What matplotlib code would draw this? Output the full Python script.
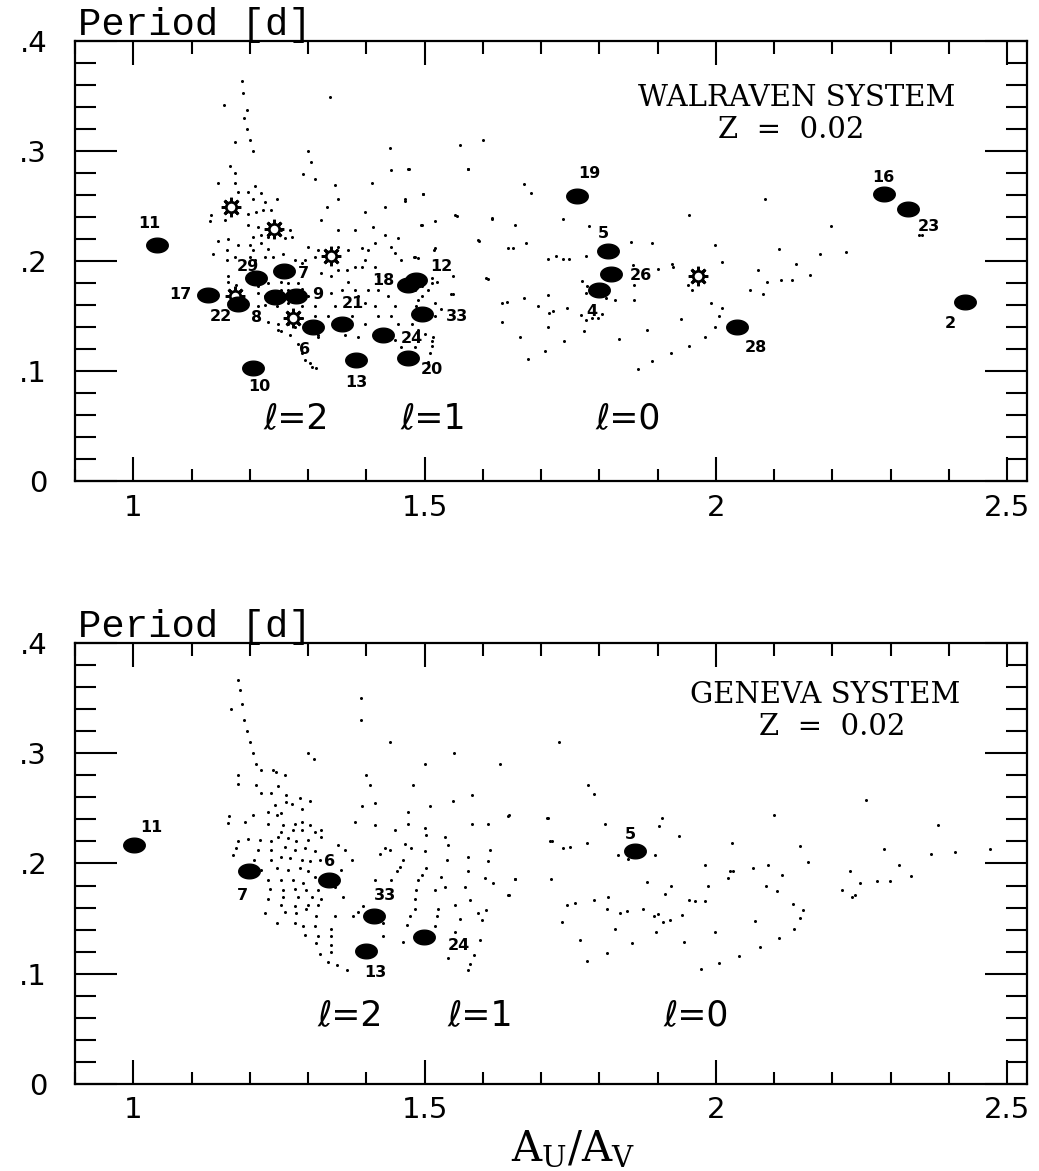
import numpy as np
import matplotlib
matplotlib.use('Agg')
import matplotlib.pyplot as plt
from matplotlib.path import Path
from matplotlib.ticker import FixedLocator, FixedFormatter, MultipleLocator

# ---- data ----
# Walraven panel: observed stars (filled ellipses) with their numbers
top_star_x = [1.041, 1.129, 1.180, 1.210, 1.259, 1.243, 1.279, 1.309, 1.359, 1.206,
              1.382, 1.428, 1.471, 1.495, 1.471, 1.486, 1.761, 1.815, 1.820, 1.800,
              2.037, 2.288, 2.330, 2.428]
top_star_y = [0.215, 0.169, 0.161, 0.185, 0.191, 0.167, 0.168, 0.140, 0.143, 0.103,
              0.110, 0.133, 0.112, 0.152, 0.178, 0.183, 0.259, 0.209, 0.188, 0.174,
              0.140, 0.261, 0.247, 0.163]
top_star_lbl = ['11', '17', '22', '29', '7', '8', '9', '6', '21', '10',
                '13', '24', '20', '33', '18', '12', '19', '5', '26', '4',
                '28', '16', '23', '2']
top_lbl_x = [1.028, 1.081, 1.151, 1.197, 1.292, 1.211, 1.316, 1.294, 1.377, 1.217,
             1.383, 1.478, 1.512, 1.555, 1.429, 1.529, 1.782, 1.807, 1.872, 1.787,
             2.069, 2.288, 2.365, 2.403]
top_lbl_y = [0.234, 0.170, 0.150, 0.195, 0.189, 0.149, 0.170, 0.120, 0.161, 0.086,
             0.090, 0.130, 0.101, 0.150, 0.182, 0.195, 0.280, 0.225, 0.187, 0.154,
             0.121, 0.276, 0.231, 0.143]

# open "sun" symbols (Walraven panel only)
top_open_x = [1.167, 1.242, 1.340, 1.174, 1.274, 1.970]
top_open_y = [0.249, 0.229, 0.205, 0.168, 0.148, 0.186]

# model grid points, Walraven panel
top_grid = np.array([
    (1.186, 0.364), (1.189, 0.353), (1.156, 0.342), (1.196, 0.337), (1.337, 0.349),
    (1.19, 0.330), (1.195, 0.320), (1.200, 0.310), (1.205, 0.300), (1.175, 0.308),
    (1.300, 0.300), (1.305, 0.290), (1.440, 0.303), (1.560, 0.305), (1.600, 0.310),
    (1.166, 0.286), (1.174, 0.280), (1.145, 0.271), (1.174, 0.271), (1.209, 0.268),
    (1.180, 0.263), (1.197, 0.263), (1.220, 0.262), (1.206, 0.256), (1.226, 0.254),
    (1.246, 0.256), (1.134, 0.242), (1.157, 0.237), (1.197, 0.243), (1.211, 0.245),
    (1.223, 0.246), (1.237, 0.246), (1.131, 0.236), (1.197, 0.233), (1.214, 0.231),
    (1.206, 0.222), (1.220, 0.224), (1.231, 0.222), (1.254, 0.228), (1.269, 0.228),
    (1.260, 0.221), (1.272, 0.222), (1.145, 0.218), (1.163, 0.220), (1.180, 0.215),
    (1.200, 0.215), (1.220, 0.216), (1.231, 0.211), (1.206, 0.210), (1.160, 0.210),
    (1.174, 0.204), (1.137, 0.206), (1.160, 0.201), (1.200, 0.204), (1.209, 0.201),
    (1.226, 0.204), (1.240, 0.204), (1.257, 0.206), (1.277, 0.201), (1.289, 0.198),
    (1.163, 0.186), (1.163, 0.181), (1.177, 0.178), (1.214, 0.177), (1.231, 0.180),
    (1.254, 0.181), (1.266, 0.180), (1.283, 0.180), (1.214, 0.171), (1.226, 0.168),
    (1.254, 0.174), (1.266, 0.174), (1.289, 0.175), (1.300, 0.168), (1.214, 0.159),
    (1.226, 0.160), (1.246, 0.159), (1.266, 0.162), (1.289, 0.159), (1.312, 0.159),
    (1.214, 0.150), (1.231, 0.145), (1.249, 0.143), (1.266, 0.143), (1.289, 0.148),
    (1.254, 0.136), (1.269, 0.133), (1.277, 0.140), (1.283, 0.125), (1.294, 0.110),
    (1.306, 0.104), (1.297, 0.136), (1.317, 0.133), (1.314, 0.103), (1.303, 0.107),
    (1.289, 0.116), (1.335, 0.150), (1.340, 0.171), (1.346, 0.159), (1.358, 0.174),
    (1.369, 0.181), (1.380, 0.174), (1.386, 0.168), (1.340, 0.186), (1.366, 0.192),
    (1.380, 0.195), (1.392, 0.195), (1.398, 0.201), (1.403, 0.210), (1.392, 0.212),
    (1.415, 0.216), (1.380, 0.228), (1.369, 0.210), (1.352, 0.213), (1.317, 0.210),
    (1.300, 0.213), (1.312, 0.204), (1.294, 0.201), (1.323, 0.189), (1.352, 0.192),
    (1.352, 0.228), (1.323, 0.237), (1.352, 0.256), (1.332, 0.249), (1.312, 0.275),
    (1.292, 0.279), (1.346, 0.269), (1.409, 0.271), (1.398, 0.245), (1.432, 0.249),
    (1.412, 0.231), (1.432, 0.224), (1.455, 0.221), (1.443, 0.213), (1.449, 0.207),
    (1.460, 0.201), (1.483, 0.204), (1.466, 0.256), (1.443, 0.283), (1.472, 0.284),
    (1.498, 0.261), (1.518, 0.236), (1.552, 0.242), (1.518, 0.212), (1.575, 0.284),
    (1.615, 0.239), (1.592, 0.219), (1.495, 0.233), (1.415, 0.195), (1.420, 0.186),
    (1.403, 0.174), (1.420, 0.174), (1.398, 0.162), (1.415, 0.159), (1.420, 0.150),
    (1.437, 0.168), (1.449, 0.159), (1.443, 0.150), (1.455, 0.143), (1.449, 0.128),
    (1.460, 0.122), (1.483, 0.174), (1.495, 0.177), (1.506, 0.174), (1.512, 0.180),
    (1.495, 0.168), (1.489, 0.165), (1.486, 0.159), (1.478, 0.143), (1.489, 0.137),
    (1.501, 0.134), (1.512, 0.127), (1.509, 0.116), (1.483, 0.122), (1.518, 0.162),
    (1.546, 0.170), (1.606, 0.185), (1.529, 0.156), (1.518, 0.150), (1.375, 0.150),
    (1.398, 0.143), (1.386, 0.131), (1.363, 0.133), (1.358, 0.146), (1.317, 0.131),
    (1.323, 0.143), (1.312, 0.150), (1.266, 0.150), (1.249, 0.137),
    (1.473, 0.284), (1.574, 0.284), (1.467, 0.255), (1.498, 0.261), (1.493, 0.233),
    (1.556, 0.241), (1.616, 0.238), (1.656, 0.233), (1.671, 0.270), (1.683, 0.262),
    (1.737, 0.238), (1.783, 0.232), (1.593, 0.218), (1.643, 0.212), (1.651, 0.212),
    (1.674, 0.216), (1.516, 0.210), (1.711, 0.202), (1.725, 0.205), (1.737, 0.202),
    (1.748, 0.202), (1.777, 0.205), (1.854, 0.217), (1.891, 0.216), (1.857, 0.196),
    (1.900, 0.193), (1.927, 0.195), (1.924, 0.197), (1.859, 0.178), (1.770, 0.182),
    (1.778, 0.177), (1.777, 0.171), (1.811, 0.166), (1.826, 0.165), (1.859, 0.165),
    (1.632, 0.162), (1.642, 0.163), (1.671, 0.166), (1.711, 0.169), (1.695, 0.159),
    (1.713, 0.153), (1.721, 0.155), (1.744, 0.157), (1.632, 0.145), (1.711, 0.140),
    (1.664, 0.131), (1.677, 0.111), (1.706, 0.118), (1.740, 0.127), (1.773, 0.136),
    (1.769, 0.151), (1.777, 0.146), (1.787, 0.148), (1.797, 0.148), (1.804, 0.152),
    (1.834, 0.129), (1.867, 0.102), (1.891, 0.109), (1.923, 0.116), (1.953, 0.123),
    (1.981, 0.131), (1.999, 0.140), (2.006, 0.150), (2.010, 0.157), (1.992, 0.162),
    (1.940, 0.147), (1.881, 0.137), (1.953, 0.242), (1.998, 0.215), (2.010, 0.199),
    (1.952, 0.178), (1.959, 0.174), (2.059, 0.174), (2.072, 0.192), (2.080, 0.170),
    (2.088, 0.181), (2.112, 0.183), (2.131, 0.183), (2.137, 0.197), (2.109, 0.211),
    (2.085, 0.256), (1.549, 0.186), (1.549, 0.170), (1.608, 0.184), (1.513, 0.185),
    (1.521, 0.181), (1.482, 0.204), (1.489, 0.203), (1.515, 0.131), (1.506, 0.108),
    (1.512, 0.123), (2.198, 0.232), (2.179, 0.206), (2.224, 0.208), (2.161, 0.187),
    (2.348, 0.224), (2.354, 0.224),
])

# Geneva panel: observed stars
bot_star_x = [1.001, 1.199, 1.336, 1.414, 1.399, 1.499, 1.861]
bot_star_y = [0.217, 0.193, 0.185, 0.152, 0.121, 0.133, 0.211]
bot_star_lbl = ['11', '7', '6', '33', '13', '24', '5']
bot_lbl_x = [1.031, 1.188, 1.337, 1.432, 1.416, 1.558, 1.854]
bot_lbl_y = [0.233, 0.171, 0.202, 0.171, 0.101, 0.126, 0.226]

# model grid points, Geneva panel
bot_grid = np.array([
    (1.179, 0.366), (1.183, 0.357), (1.186, 0.345), (1.168, 0.340), (1.190, 0.330),
    (1.195, 0.320), (1.200, 0.310), (1.205, 0.300), (1.210, 0.290), (1.220, 0.285),
    (1.240, 0.285), (1.245, 0.283), (1.300, 0.300), (1.310, 0.295), (1.390, 0.350),
    (1.390, 0.330), (1.400, 0.280), (1.440, 0.310), (1.500, 0.290), (1.550, 0.300),
    (1.730, 0.310), (1.630, 0.290), (1.260, 0.280), (1.180, 0.280),
    (1.180, 0.272), (1.210, 0.271), (1.249, 0.270), (1.220, 0.264), (1.237, 0.264),
    (1.262, 0.262), (1.287, 0.259), (1.303, 0.257), (1.243, 0.253), (1.262, 0.256),
    (1.273, 0.254), (1.254, 0.246), (1.231, 0.247), (1.289, 0.249), (1.165, 0.243),
    (1.206, 0.244), (1.246, 0.244), (1.163, 0.237), (1.192, 0.238), (1.231, 0.236),
    (1.257, 0.235), (1.277, 0.236), (1.289, 0.238), (1.303, 0.235), (1.254, 0.229),
    (1.274, 0.230), (1.289, 0.230), (1.312, 0.229), (1.323, 0.230), (1.180, 0.220),
    (1.197, 0.222), (1.217, 0.221), (1.237, 0.220), (1.249, 0.224), (1.266, 0.223),
    (1.280, 0.220), (1.300, 0.221), (1.323, 0.224), (1.177, 0.214), (1.214, 0.212),
    (1.237, 0.212), (1.260, 0.215), (1.277, 0.212), (1.294, 0.214), (1.312, 0.211),
    (1.352, 0.217), (1.363, 0.212), (1.171, 0.208), (1.208, 0.203), (1.237, 0.203),
    (1.254, 0.206), (1.269, 0.205), (1.289, 0.203), (1.303, 0.202), (1.320, 0.203),
    (1.220, 0.194), (1.246, 0.196), (1.266, 0.194), (1.286, 0.196), (1.300, 0.193),
    (1.312, 0.188), (1.357, 0.194), (1.375, 0.203), (1.231, 0.185), (1.254, 0.185),
    (1.274, 0.185), (1.292, 0.182), (1.234, 0.177), (1.257, 0.176), (1.277, 0.177),
    (1.297, 0.176), (1.317, 0.176), (1.346, 0.179), (1.360, 0.170), (1.231, 0.168),
    (1.257, 0.170), (1.283, 0.170), (1.306, 0.170), (1.323, 0.168), (1.254, 0.162),
    (1.277, 0.161), (1.300, 0.162), (1.317, 0.162), (1.226, 0.155), (1.260, 0.156),
    (1.280, 0.155), (1.297, 0.159), (1.314, 0.152), (1.346, 0.152), (1.246, 0.146),
    (1.277, 0.146), (1.292, 0.143), (1.312, 0.143), (1.340, 0.141), (1.294, 0.135),
    (1.317, 0.134), (1.340, 0.134), (1.314, 0.128), (1.340, 0.126), (1.320, 0.118),
    (1.340, 0.120), (1.334, 0.111), (1.349, 0.108), (1.366, 0.103), (1.377, 0.152),
    (1.386, 0.156), (1.394, 0.161), (1.429, 0.146), (1.429, 0.134), (1.415, 0.185),
    (1.443, 0.185), (1.380, 0.238), (1.415, 0.235), (1.392, 0.252), (1.415, 0.255),
    (1.406, 0.271), (1.480, 0.271), (1.509, 0.252), (1.549, 0.257), (1.581, 0.262),
    (1.472, 0.247), (1.472, 0.236), (1.449, 0.230), (1.500, 0.232), (1.503, 0.226),
    (1.535, 0.224), (1.540, 0.217), (1.432, 0.214), (1.423, 0.209), (1.440, 0.212),
    (1.466, 0.218), (1.477, 0.214), (1.463, 0.203), (1.457, 0.197), (1.452, 0.193),
    (1.500, 0.211), (1.503, 0.196), (1.495, 0.190), (1.489, 0.185), (1.486, 0.176),
    (1.483, 0.168), (1.483, 0.159), (1.475, 0.152), (1.469, 0.144), (1.463, 0.129),
    (1.538, 0.203), (1.529, 0.188), (1.535, 0.179), (1.518, 0.176), (1.523, 0.159),
    (1.521, 0.152), (1.518, 0.143), (1.552, 0.162), (1.561, 0.150), (1.552, 0.138),
    (1.541, 0.114), (1.575, 0.206), (1.575, 0.193), (1.569, 0.179), (1.578, 0.167),
    (1.592, 0.155), (1.598, 0.149), (1.606, 0.158), (1.609, 0.202), (1.604, 0.187),
    (1.612, 0.212), (1.609, 0.236), (1.581, 0.236), (1.618, 0.182), (1.644, 0.171),
    (1.655, 0.186), (1.644, 0.244), (1.584, 0.117), (1.578, 0.109), (1.575, 0.103),
    (1.595, 0.131), (1.718, 0.220), (1.712, 0.241),
    (1.780, 0.271), (1.790, 0.263), (1.643, 0.243), (1.710, 0.241), (1.810, 0.236),
    (1.907, 0.241), (1.902, 0.234), (1.937, 0.225), (1.715, 0.220), (1.737, 0.214),
    (1.749, 0.215), (1.778, 0.219), (1.832, 0.208), (1.849, 0.204), (1.895, 0.208),
    (2.027, 0.219), (2.099, 0.244), (2.258, 0.258), (2.382, 0.235), (2.145, 0.216),
    (2.158, 0.201), (1.655, 0.186), (1.717, 0.186), (1.643, 0.171), (1.981, 0.199),
    (2.024, 0.193), (2.030, 0.193), (2.021, 0.187), (2.063, 0.196), (2.090, 0.199),
    (2.113, 0.190), (2.086, 0.180), (2.105, 0.175), (1.986, 0.180), (1.882, 0.183),
    (1.923, 0.180), (1.913, 0.172), (1.953, 0.167), (1.964, 0.166), (1.981, 0.166),
    (1.745, 0.162), (1.758, 0.164), (1.791, 0.167), (1.815, 0.170), (1.813, 0.159),
    (1.835, 0.155), (1.847, 0.157), (1.874, 0.159), (1.894, 0.152), (1.901, 0.154),
    (1.910, 0.147), (1.921, 0.149), (1.941, 0.153), (1.736, 0.147), (1.827, 0.141),
    (1.897, 0.138), (1.999, 0.138), (2.067, 0.148), (2.133, 0.163), (2.150, 0.158),
    (2.145, 0.151), (2.134, 0.141), (2.109, 0.132), (2.075, 0.124), (2.039, 0.116),
    (2.006, 0.110), (1.975, 0.104), (1.946, 0.129), (1.856, 0.128), (1.813, 0.119),
    (1.767, 0.131), (1.779, 0.112), (2.217, 0.176), (2.230, 0.193), (2.233, 0.170),
    (2.239, 0.171), (2.247, 0.182), (2.277, 0.184), (2.299, 0.184), (2.288, 0.213),
    (2.314, 0.199), (2.334, 0.189), (2.369, 0.209), (2.410, 0.210), (2.470, 0.213),
])

x_major = [1, 1.5, 2, 2.5]
x_major_lbl = ['1', '1.5', '2', '2.5']
y_major = [0, 0.1, 0.2, 0.3, 0.4]
y_major_lbl = ['0', '.1', '.2', '.3', '.4']

# ellipse shaped marker for the observed stars
t = np.linspace(0, 2 * np.pi, 60)
ell = Path(np.column_stack([np.cos(t), 0.68 * np.sin(t)]))


def setup_axes(ax):
    ax.set_xlim(0.9, 2.534)
    ax.set_ylim(0, 0.4)
    ax.xaxis.set_major_locator(FixedLocator(x_major))
    ax.xaxis.set_major_formatter(FixedFormatter(x_major_lbl))
    ax.xaxis.set_minor_locator(MultipleLocator(0.1))
    ax.yaxis.set_major_locator(FixedLocator(y_major))
    ax.yaxis.set_major_formatter(FixedFormatter(y_major_lbl))
    ax.yaxis.set_minor_locator(MultipleLocator(0.02))
    ax.tick_params(which='both', direction='in', top=True, right=True,
                   width=1.5, color='black', labelsize=21)
    ax.tick_params(axis='x', which='major', length=17, pad=9)
    ax.tick_params(axis='x', which='minor', length=9)
    ax.tick_params(axis='y', which='major', length=30, pad=20)
    ax.tick_params(axis='y', which='minor', length=15)
    for s in ax.spines.values():
        s.set_linewidth(1.6)
    ax.text(0.003, 1.014, 'Period [d]', transform=ax.transAxes, ha='left',
            va='baseline', fontsize=28, family='Liberation Mono')


def draw_panel(ax, grid, sx, sy, lx, ly, lbl):
    ax.plot(grid[:, 0], grid[:, 1], 'o', ms=2.2, color='black', mew=0, zorder=2)
    ax.plot(sx, sy, linestyle='none', marker=ell, ms=15.5, color='black', zorder=5)
    for xx, yy, tt in zip(lx, ly, lbl):
        ax.text(xx, yy, tt, ha='center', va='center', fontsize=11.5,
                fontweight='bold', zorder=6)


fig = plt.figure(figsize=(10.39, 11.71), dpi=100)
ax1 = fig.add_axes([0.0722, 0.5892, 0.9163, 0.3758])
ax2 = fig.add_axes([0.0722, 0.0743, 0.9163, 0.3766])

# top: Walraven
setup_axes(ax1)
draw_panel(ax1, top_grid, top_star_x, top_star_y, top_lbl_x, top_lbl_y, top_star_lbl)
ax1.plot(top_open_x, top_open_y, linestyle='none', marker=(8, 2, 0), ms=14,
         mew=2, color='black', zorder=3)
ax1.plot(top_open_x, top_open_y, linestyle='none', marker='o', ms=7.5,
         mfc='white', mec='black', mew=2, zorder=4)
ax1.text(2.139, 0.348, 'WALRAVEN SYSTEM', ha='center', va='center',
         fontsize=21, family='DejaVu Serif')
ax1.text(2.13, 0.319, 'Z  =  0.02', ha='center', va='center',
         fontsize=21, family='DejaVu Serif')
for xx, tt in zip([1.28, 1.515, 1.85], ['ℓ=2', 'ℓ=1', 'ℓ=0']):
    ax1.text(xx, 0.057, tt, ha='center', va='center', fontsize=25)

# bottom: Geneva
setup_axes(ax2)
draw_panel(ax2, bot_grid, bot_star_x, bot_star_y, bot_lbl_x, bot_lbl_y, bot_star_lbl)
ax2.text(2.187, 0.353, 'GENEVA SYSTEM', ha='center', va='center',
         fontsize=21, family='DejaVu Serif')
ax2.text(2.2, 0.324, 'Z  =  0.02', ha='center', va='center',
         fontsize=21, family='DejaVu Serif')
for xx, tt in zip([1.373, 1.595, 1.966], ['ℓ=2', 'ℓ=1', 'ℓ=0']):
    ax2.text(xx, 0.0625, tt, ha='center', va='center', fontsize=25)

fig.text(0.5515, 0.0094, r'$\mathrm{A_U/A_V}$', ha='center', va='baseline',
         fontsize=30, math_fontfamily='dejavuserif')

fig.savefig('out.png', dpi=100)
